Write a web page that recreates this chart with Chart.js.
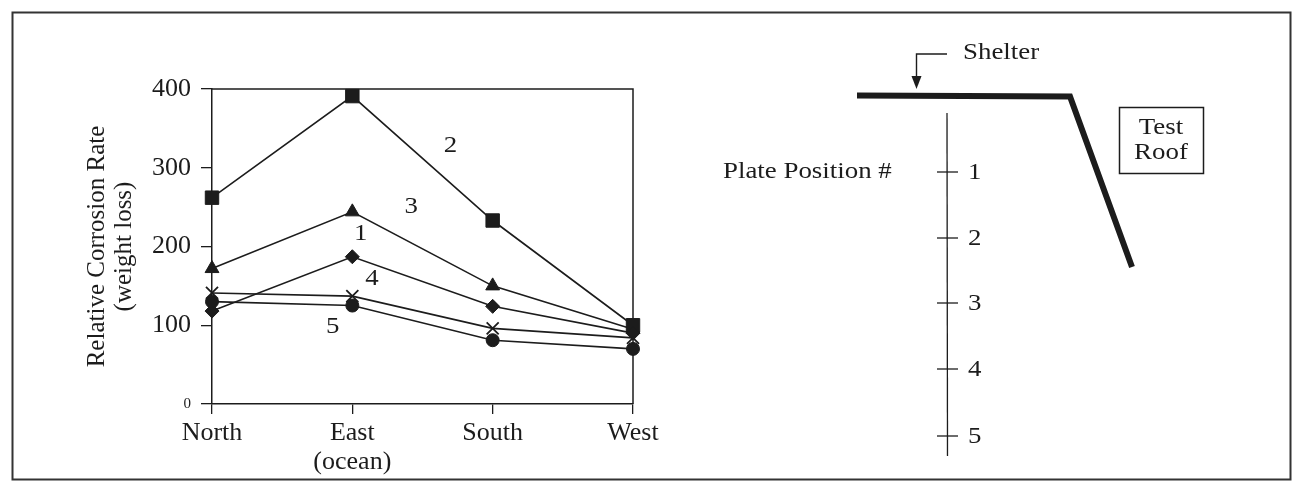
<!DOCTYPE html>
<html>
<head>
<meta charset="utf-8">
<script src="https://cdn.jsdelivr.net/npm/chart.js@4.4.1/dist/chart.umd.min.js"></script>
<style>
  html, body { margin: 0; padding: 0; background: #fff; }
  #wrap { position: relative; width: 1292px; height: 485px; }
  canvas { display: block; }
</style>
</head>
<body>
<div id="wrap"><canvas id="c" width="1292" height="485"></canvas></div>
<script>
// ---- data ----
const categories = ['North', ['East', '(ocean)'], 'South', 'West'];
const position1 = [118, 187, 124, 90];   // diamonds
const position2 = [262, 391, 233, 100];  // squares
const position3 = [172, 244, 150, 95];   // triangles
const position4 = [141, 137, 96, 84];    // crosses
const position5 = [130, 125, 81, 70];    // circles
const seriesNames = ['1', '2', '3', '4', '5'];
const yTickValues = [0, 100, 200, 300, 400];
const platePositions = ['1', '2', '3', '4', '5'];

// ---- styling / layout ----
const INK = '#1c1c1c';
const FONT = '"Liberation Serif", "Times New Roman", serif';
const STRETCH = 1.12;
// in-plot series label anchors (category index, value)
const labelAnchors = [
  [1.06, 216], [1.70, 328], [1.42, 250], [1.14, 159], [0.86, 98]
];

function ds(name, data, style, radius) {
  return {
    label: name, data: data,
    borderColor: INK, backgroundColor: INK, borderWidth: 1.6,
    pointStyle: style, pointRadius: radius, pointHoverRadius: radius,
    pointBorderColor: INK, pointBackgroundColor: INK, pointBorderWidth: style === 'crossRot' ? 1.8 : 1,
    tension: 0, fill: false, clip: false
  };
}

function text(ctx, s, x, y, align) {
  ctx.save();
  ctx.translate(x, y);
  ctx.scale(STRETCH, 1);
  ctx.textAlign = align;
  ctx.fillText(s, 0, 0);
  ctx.restore();
}

const decorPlugin = {
  id: 'decor',
  beforeDatasetsDraw(chart) {
    const { ctx, chartArea: a } = chart;
    ctx.save();
    ctx.strokeStyle = INK;
    ctx.lineWidth = 1.5;
    ctx.beginPath();
    ctx.moveTo(a.left, a.top); ctx.lineTo(a.right, a.top); ctx.lineTo(a.right, a.bottom);
    ctx.stroke();
    ctx.restore();
  },
  afterDraw(chart) {
    const { ctx } = chart;
    const xs = chart.scales.x, ys = chart.scales.y;
    ctx.save();
    ctx.fillStyle = INK;
    ctx.font = '24px ' + FONT;
    ctx.textBaseline = 'middle';
    seriesNames.forEach((n, i) => {
      const [ix, v] = labelAnchors[i];
      text(ctx, n, xs.getPixelForValue(ix), ys.getPixelForValue(v), 'center');
    });

    // outer frame
    ctx.strokeStyle = '#333';
    ctx.lineWidth = 2;
    ctx.strokeRect(12.5, 12.5, 1278, 467);

    // ---- right-hand diagram ----
    ctx.strokeStyle = INK;
    // roof / shelter
    ctx.lineWidth = 6;
    ctx.lineJoin = 'miter';
    ctx.beginPath();
    ctx.moveTo(857, 95.5); ctx.lineTo(1070, 96.5); ctx.lineTo(1132, 267);
    ctx.stroke();

    // shelter arrow
    ctx.lineWidth = 1.4;
    ctx.beginPath();
    ctx.moveTo(947, 54); ctx.lineTo(916.5, 54); ctx.lineTo(916.5, 77);
    ctx.stroke();
    ctx.beginPath();
    ctx.moveTo(911.5, 76); ctx.lineTo(921.5, 76); ctx.lineTo(916.5, 89); ctx.closePath();
    ctx.fill();

    text(ctx, 'Shelter', 963, 53, 'left');

    // test roof box
    ctx.lineWidth = 1.5;
    ctx.strokeRect(1119.5, 107.5, 84, 66);
    text(ctx, 'Test', 1161, 128, 'center');
    text(ctx, 'Roof', 1161, 153, 'center');

    // plate position axis
    ctx.lineWidth = 1.3;
    ctx.beginPath();
    ctx.moveTo(947, 113); ctx.lineTo(947.5, 456);
    ctx.stroke();
    const tickY = [172, 238, 303, 369, 436];
    platePositions.forEach((p, i) => {
      ctx.beginPath();
      ctx.moveTo(937, tickY[i]); ctx.lineTo(958, tickY[i]);
      ctx.stroke();
      text(ctx, p, 968, tickY[i] + 1, 'left');
    });
    text(ctx, 'Plate Position #', 723, 172, 'left');
    ctx.restore();
  }
};

new Chart(document.getElementById('c'), {
  type: 'line',
  data: {
    labels: categories,
    datasets: [
      ds(seriesNames[0], position1, 'rectRot', 7),
      ds(seriesNames[1], position2, 'rect', 9.5),
      ds(seriesNames[2], position3, 'triangle', 8),
      ds(seriesNames[3], position4, 'crossRot', 8.5),
      ds(seriesNames[4], position5, 'circle', 6.5)
    ]
  },
  options: {
    responsive: false,
    animation: false,
    events: [],
    devicePixelRatio: 1,
    layout: { padding: { left: 0, top: 89, right: 659, bottom: 0 } },
    plugins: { legend: { display: false }, tooltip: { enabled: false } },
    scales: {
      x: {
        type: 'category',
        offset: false,
        afterFit: s => { s.height = 81; },
        grid: { drawOnChartArea: false, drawTicks: true, tickLength: 10, color: INK, lineWidth: 1.3 },
        border: { display: true, color: INK, width: 1.5 },
        ticks: { color: INK, font: { family: FONT, size: 26, lineHeight: 1.1 }, padding: 5, maxRotation: 0, autoSkip: false }
      },
      y: {
        min: 0, max: 400,
        afterFit: s => { s.width = 212; },
        afterBuildTicks: s => { s.ticks = yTickValues.map(v => ({ value: v })); },
        grid: { drawOnChartArea: false, drawTicks: true, tickLength: 11, color: INK, lineWidth: 1.3 },
        border: { display: true, color: INK, width: 1.5 },
        ticks: {
          color: INK, padding: 10,
          font: c => (c.tick && c.tick.value === 0) ? { family: FONT, size: 15 } : { family: FONT, size: 26 }
        },
        title: {
          display: true,
          text: ['Relative Corrosion Rate', '(weight loss)'],
          color: INK,
          font: { family: FONT, size: 25, lineHeight: '27px' },
          padding: { top: 83.5, bottom: 0 }
        }
      }
    }
  },
  plugins: [decorPlugin]
});
</script>
</body>
</html>
